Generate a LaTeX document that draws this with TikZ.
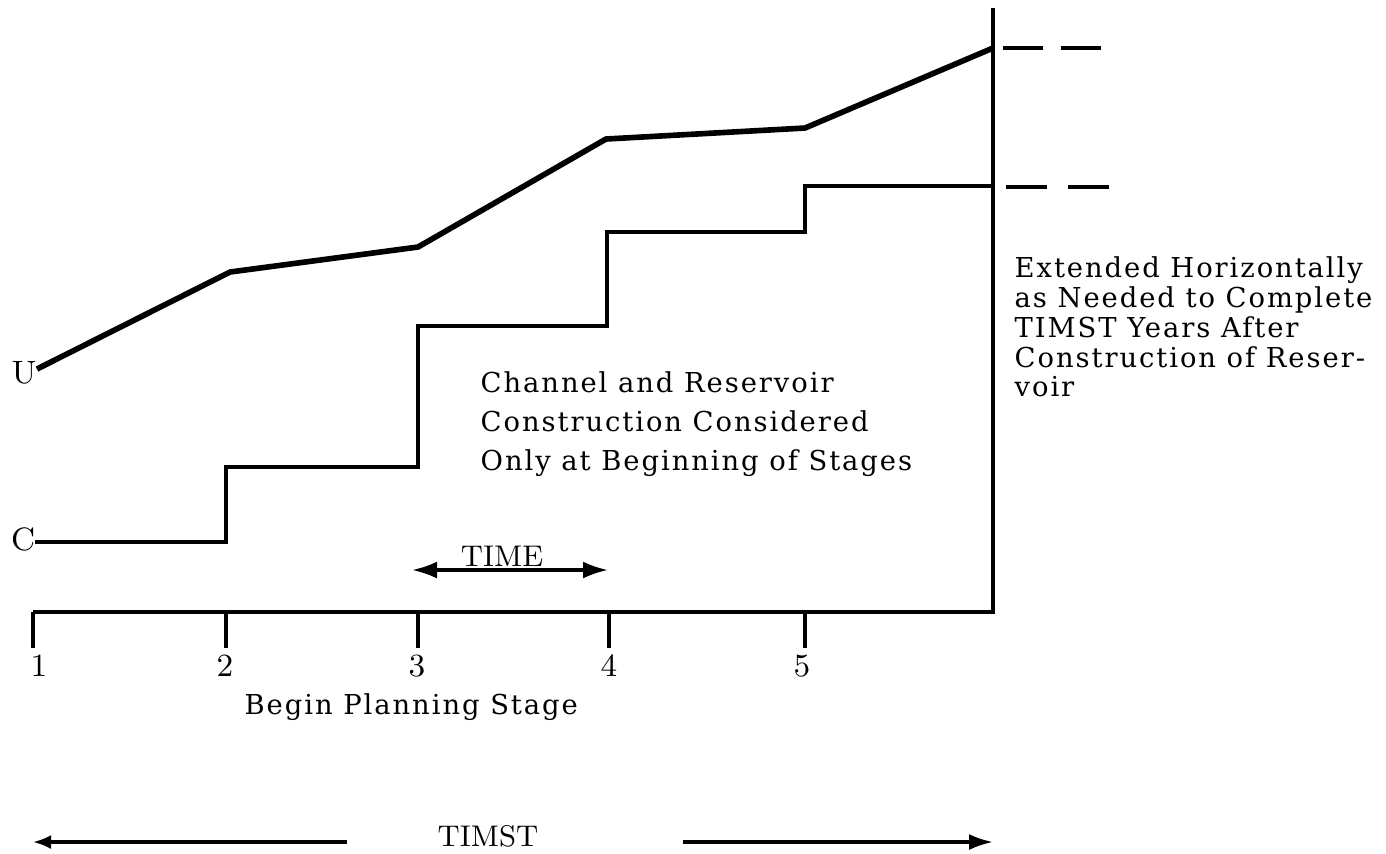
\documentclass[tikz,border=0pt]{standalone}
\usepackage{fontspec}
\newfontfamily\typefont[LetterSpace=7]{DejaVu Serif}
\usetikzlibrary{arrows.meta,positioning}

\begin{document}
\begin{tikzpicture}[
    ucurve/.style={line width=1.6pt,line join=round},
    cstep/.style={line width=1.3pt,line join=miter},
    axisline/.style={line width=1.4pt},
    tickmark/.style={line width=1.0pt},
    extline/.style={line width=1.1pt},
    span/.style={{Latex[length=2.5mm,width=1.7mm]}-{Latex[length=2.5mm,width=1.7mm]},line width=0.9pt},
    lab/.style={font=\fontsize{8.5}{10}\selectfont,inner sep=0pt},
    biglab/.style={font=\fontsize{9.2}{10}\selectfont,inner sep=0pt},
    note/.style={font=\typefont\fontsize{7.8}{8.5}\selectfont,align=left,inner sep=0pt},
    widenote/.style={font=\typefont\fontsize{7.8}{11.1}\selectfont,align=left,inner sep=0pt},
]
\useasboundingbox (0,0) rectangle (13.86,-8.53);

% axes
\coordinate (a0) at (0.33,-6.12);
\coordinate (a5) at (9.93,-6.12);
\coordinate (top) at (9.93,-0.08);
\draw[axisline] (a0) -- (a5) -- (top);

% stages on the time axis
\foreach \i/\x in {1/0.33,2/2.26,3/4.18,4/6.09,5/8.05}{
  \coordinate (t\i) at (\x,-6.12);
  \draw[tickmark] (t\i) -- ++(0,-0.36);
}
\node[biglab,anchor=base] (n1) at (0.39,-6.76) {1};
\node[biglab,anchor=base] (n2) at (2.25,-6.76) {2};
\node[biglab,anchor=base] (n3) at (4.17,-6.76) {3};
\node[biglab,anchor=base] (n4) at (6.09,-6.76) {4};
\node[biglab,anchor=base] (n5) at (8.02,-6.76) {5};

% upper curve U
\node[biglab,anchor=base] (U) at (0.24,-3.83) {U};
\coordinate (u0) at (0.37,-3.69);
\coordinate (u1) at (2.30,-2.72);
\coordinate (u2) at (4.18,-2.47);
\coordinate (u3) at (6.06,-1.39);
\coordinate (u4) at (8.05,-1.28);
\coordinate (u5) at (9.93,-0.48);
\draw[ucurve] (u0) -- (u1) -- (u2) -- (u3) -- (u4) -- (u5);

% staircase C
\node[biglab,anchor=base] (C) at (0.23,-5.50) {C};
\coordinate (c0) at (0.35,-5.42);
\coordinate (c5) at (9.93,-1.86);
\draw[cstep] (c0) -| (2.26,-4.67) -| (4.18,-3.26) -| (6.07,-2.32)
             -| (8.05,-1.86) -- (c5);

% horizontal extensions
\coordinate (e1a) at (10.03,-0.48);
\coordinate (e1b) at (11.02,-0.48);
\coordinate (e2a) at (10.06,-1.87);
\coordinate (e2b) at (11.11,-1.87);
\draw[extline,dash pattern=on 0.40cm off 0.18cm] (e1a) -- (e1b);
\draw[extline,dash pattern=on 0.41cm off 0.21cm] (e2a) -- (e2b);

% one stage
\coordinate (s3) at (4.12,-5.70);
\coordinate (s4) at (6.08,-5.70);
\draw[span] (s3) -- node[lab,above=0.02cm,xshift=-0.08cm] (time) {TIME} (s4);

% notes
\node[widenote,anchor=west] (chan) at (4.80,-4.24)
  {Channel and Reservoir\\
   Construction Considered\\
   Only at Beginning of Stages};
\node[note,anchor=west] (ext) at (10.14,-3.27)
  {Extended Horizontally\\
   as Needed to Complete\\
   TIMST Years After\\
   Construction of Reser-\\
   voir};
\node[note,anchor=base west] (begin) at (2.44,-7.14) {Begin Planning Stage};

% TIMST span
\node[lab,anchor=base] (timst) at (4.88,-8.46) {TIMST};
\coordinate (la) at (3.47,-8.42);
\coordinate (lb) at (0.33,-8.42);
\coordinate (ra) at (6.83,-8.42);
\coordinate (rb) at (9.93,-8.42);
\draw[line width=0.9pt,-{Latex[length=1.8mm,width=1.4mm]}] (la) -- (lb);
\draw[line width=0.9pt,-{Latex[length=2.4mm,width=1.6mm]}] (ra) -- (rb);
\end{tikzpicture}
\end{document}
